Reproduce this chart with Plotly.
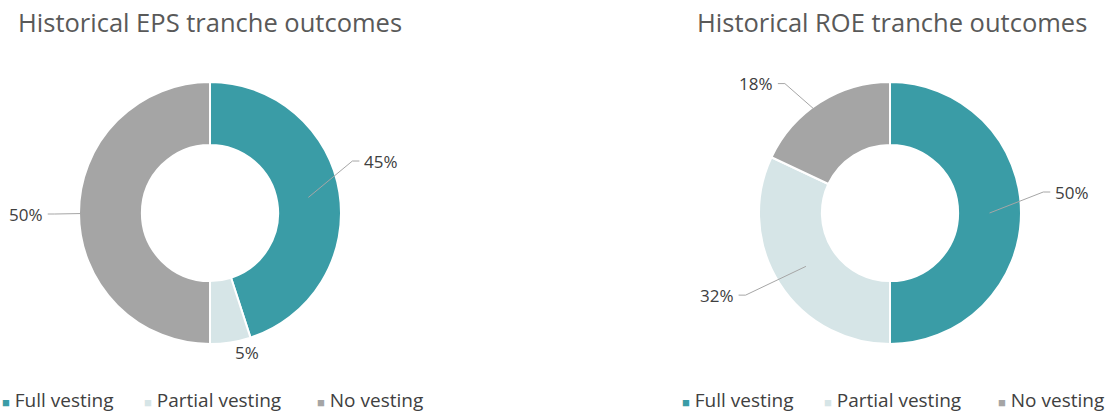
import math
import plotly.graph_objects as go

# ---- data ----
categories = ["Full vesting", "Partial vesting", "No vesting"]
eps_values = [45, 5, 50]
roe_values = [50, 32, 18]
titles = ["Historical EPS tranche outcomes", "Historical ROE tranche outcomes"]
colors = ["#3A9CA6", "#D6E5E7", "#A5A5A5"]

# ---- layout constants ----
W, H = 1117, 414
R = 131
HOLE = 0.52
CY = 213
centers_x = [210, 890]
title_x = [16, 695]
legend_x = [[0, 142, 315], [680, 822, 996]]
# label placement nudges (px) relative to the default mid-angle elbow
label_nudge = [[(-9, -28), (14, -3), (-2, 1)], [(0, -21), (-15, 0), (-23, 0)]]
FONT = "Open Sans"


def px(x):
    return x / W


def py(y):
    return 1 - y / H


fig = go.Figure()
shapes = []
annotations = []

for k, (vals, cx) in enumerate(zip([eps_values, roe_values], centers_x)):
    fig.add_trace(go.Pie(
        labels=categories, values=vals, hole=HOLE, sort=False,
        direction="clockwise", rotation=0,
        marker=dict(colors=colors, line=dict(color="white", width=2)),
        textinfo="none", hoverinfo="label+percent", showlegend=False,
        domain=dict(x=[px(cx - R), px(cx + R)], y=[py(CY + R), py(CY - R)]),
    ))
    total = sum(vals)
    cum = 0
    for i, v in enumerate(vals):
        mid = (cum + v / 2) / total * 2 * math.pi
        cum += v
        s, c = math.sin(mid), math.cos(mid)
        nx, ny = label_nudge[k][i]
        txt = f"{round(v / total * 100)}%"
        if v / total < 0.08:
            r = 1.1 * R
            annotations.append(dict(
                x=px(cx + r * s + nx), y=py(CY - r * c + ny), xref="paper", yref="paper",
                text=txt, showarrow=False, xanchor="center", yanchor="middle",
                font=dict(family=FONT, size=17, color="#404040")))
            continue
        r0 = R * (1 + HOLE) / 2
        r1 = 1.17 * R
        x0, y0 = cx + r0 * s, CY - r0 * c
        x1, y1 = cx + r1 * s + nx, CY - r1 * c + ny
        sign = 1 if s >= 0 else -1
        x2 = x1 + sign * 7
        shapes.append(dict(type="path", xref="paper", yref="paper",
                           path=f"M {px(x0)},{py(y0)} L {px(x1)},{py(y1)} L {px(x2)},{py(y1)}",
                           line=dict(color="#A6A6A6", width=1)))
        annotations.append(dict(
            x=px(x2 + sign * 3), y=py(y1), xref="paper", yref="paper",
            text=txt, showarrow=False, xanchor="left" if sign > 0 else "right",
            yanchor="middle", font=dict(family=FONT, size=17, color="#404040")))

    # title
    annotations.append(dict(
        x=px(title_x[k]), y=py(22), xref="paper", yref="paper", text=titles[k],
        showarrow=False, xanchor="left", yanchor="middle",
        font=dict(family=FONT, size=25.5, color="#595959")))
    # legend
    for name, col, lx in zip(categories, colors, legend_x[k]):
        annotations.append(dict(
            x=px(lx), y=py(400), xref="paper", yref="paper",
            text=f'<span style="color:{col};font-size:13px">■</span> {name}',
            showarrow=False, xanchor="left", yanchor="middle",
            font=dict(family=FONT, size=19, color="#404040")))

fig.update_layout(
    width=W, height=H, margin=dict(l=0, r=0, t=0, b=0),
    paper_bgcolor="white", plot_bgcolor="white",
    shapes=shapes, annotations=annotations, showlegend=False,
)

fig.write_html("out.html", config={"displayModeBar": False},
               post_script="document.body.style.margin='0';")
